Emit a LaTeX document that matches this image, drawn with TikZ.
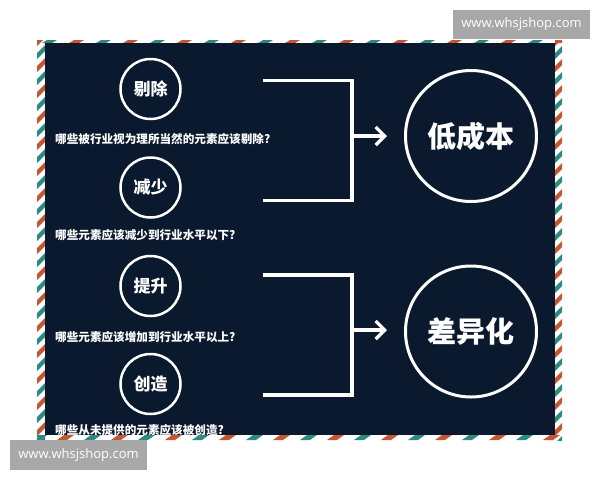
\documentclass[tikz,border=0pt]{standalone}
\usepackage{fontspec}
\usepackage{tikz}
\usetikzlibrary{arrows.meta}
\setmainfont{Open Sans}
\newfontfamily\cjk{Noto Sans CJK SC}
\definecolor{navy}{RGB}{10,25,46}
\definecolor{teal}{RGB}{44,138,128}
\definecolor{rust}{RGB}{198,86,48}
\definecolor{wmgray}{RGB}{168,168,168}

\begin{document}
\begin{tikzpicture}[x=1pt,y=-1pt,
    smallc/.style={draw=white,line width=2.5pt,circle,minimum size=60pt,text=white,font=\cjk\bfseries\fontsize{17}{17}\selectfont},
    bigc/.style={draw=white,line width=3pt,circle,minimum size=131pt,text=white,font=\cjk\bfseries\fontsize{29}{29}\selectfont},
    qtext/.style={anchor=west,text=white,inner sep=0pt,font=\cjk\bfseries\fontsize{11.6}{12}\selectfont},
    bracket/.style={draw=white,line width=3.3pt},
    arr/.style={draw=white,line width=3.3pt,-{Straight Barb[length=9pt,width=18pt]}},
    wmark/.style={fill=wmgray,text=white,inner sep=0pt,font=\fontsize{13}{13}\selectfont}]
    \useasboundingbox (0,0) rectangle (600,480);
    \fill[white] (0,0) rectangle (600,480);
    \begin{scope}
        \clip (37,40) rectangle (562,440);
        % left and right sides
        \foreach \y [count=\i] in {40,53,...,450}{
            \pgfmathsetmacro{\col}{mod(\i,2)==0 ? "teal" : "rust"}
            \fill[\col] (37,\y) -- (45,\y-8) -- (45,\y-2) -- (37,\y+6) -- cycle;
            \fill[\col] (555,\y) -- (562,\y-7) -- (562,\y-1) -- (555,\y+6) -- cycle;
        }
        % top and bottom
        \foreach \x [count=\i] in {30,57,...,580}{
            \pgfmathsetmacro{\col}{mod(\i,2)==0 ? "rust" : "teal"}
            \fill[\col] (\x,440) -- (\x+10,440) -- (\x+17,435) -- (\x+7,435) -- cycle;
            \fill[\col] (\x+12,43) -- (\x+22,43) -- (\x+27,40) -- (\x+17,40) -- cycle;
        }
    \end{scope}
    \fill[navy] (45,43) rectangle (555,435);

    \node[smallc] (tichu) at (150.5,89) {剔除};
    \node[qtext] (q1) at (55,139) {哪些被行业视为理所当然的元素应该剔除?};
    \node[smallc] (jianshao) at (150.5,187.5) {减少};
    \node[qtext] (q2) at (55,235) {哪些元素应该减少到行业水平以下?};
    \node[smallc] (tisheng) at (150.5,286) {提升};
    \node[qtext] (q3) at (55,337) {哪些元素应该增加到行业水平以上?};
    \node[smallc] (chuangzao) at (150.5,384) {创造};
    \node[qtext] (q4) at (55,430) {哪些从未提供的元素应该被创造?};

    \node[bigc] (dicb) at (471,136) {低成本};
    \node[bigc] (chayi) at (471,331.5) {差异化};

    \coordinate (a1) at (263,80.5);
    \coordinate (a2) at (263,200.5);
    \coordinate (av) at (352,136);
    \coordinate (b1) at (263,275);
    \coordinate (b2) at (263,395);
    \coordinate (bv) at (352,330);
    \draw[bracket] (a1) -| (av) |- (a2);
    \draw[bracket] (b1) -| (bv) |- (b2);
    \draw[arr] (av) -- ([xshift=-17pt]dicb.west |- av);
    \draw[arr] (bv) -- ([xshift=-17pt]chayi.west |- bv);

    \node[wmark,minimum width=137pt,minimum height=29pt] (wm1) at (521.5,24.5) {www.whsjshop.com};
    \node[wmark,minimum width=137pt,minimum height=30pt] (wm2) at (78.5,455) {www.whsjshop.com};
\end{tikzpicture}
\end{document}
